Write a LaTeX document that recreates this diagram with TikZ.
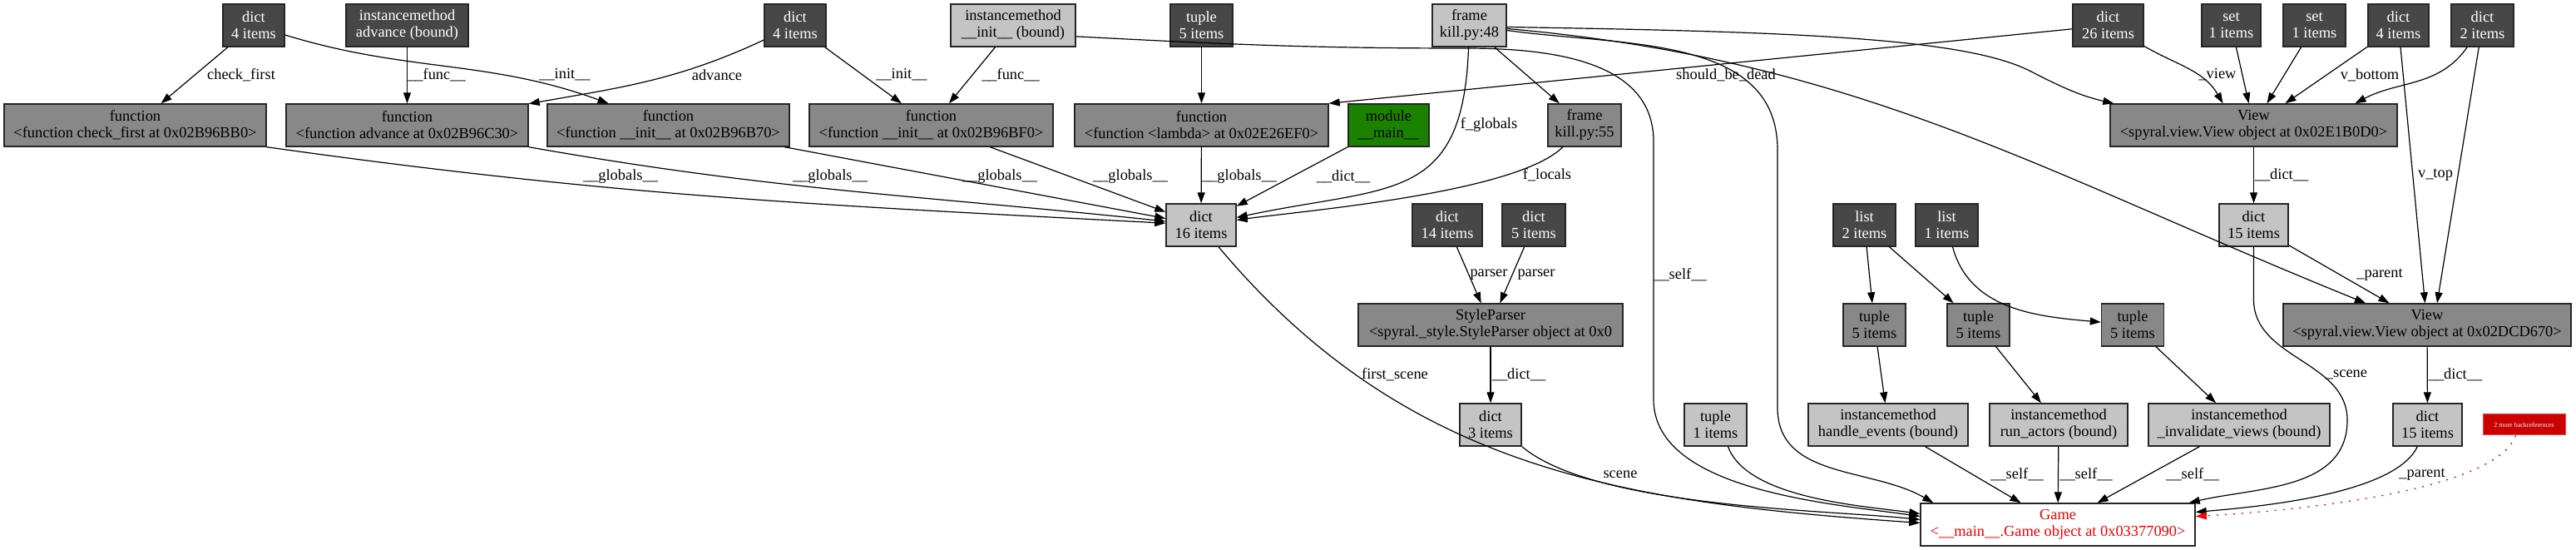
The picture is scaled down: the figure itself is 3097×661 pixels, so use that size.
\documentclass[tikz,border=0pt]{standalone}
\usepackage{fontspec}
\setmainfont{Liberation Serif}
\usetikzlibrary{arrows.meta}

\definecolor{cdark}{HTML}{474747}
\definecolor{cmid}{HTML}{888888}
\definecolor{clight}{HTML}{C4C4C4}
\definecolor{cmodule}{HTML}{1B8200}
\definecolor{cmore}{HTML}{CC0000}

\begin{document}
\begin{tikzpicture}[x=0.25pt, y=-0.25pt, font=\fontsize{4.6}{5}\selectfont,
  obj/.style={draw=black!85, line width=0.35pt, minimum height=12.75pt, inner sep=0.25pt, align=center},
  objdark/.style={obj, fill=cdark, text=white},
  objmid/.style={obj, fill=cmid},
  objlight/.style={obj, fill=clight},
  objmodule/.style={obj, fill=cmodule},
  objgame/.style={obj, fill=white, text=red},
  objmore/.style={draw=red!75!white, line width=0.25pt, fill=cmore, text=white, minimum height=6.25pt, inner sep=0pt, font=\fontsize{2}{2.25}\selectfont},
  ref/.style={-{Triangle[length=3.25pt,width=2.25pt]}, line width=0.3pt},
  refmore/.style={ref, red, dash pattern=on 0.5pt off 2pt},
  lbl/.style={inner sep=0pt}]

 \useasboundingbox (0,0) rectangle (3097,661);

 % define a new command named \Obj with 5 arguments
 \newcommand{\Obj}[5]{
  % Draw an object box with {style}{(x,y)}{width}{name}{text}
  \node [#1, minimum width=#3*0.25pt] (#4) at #2 {#5};
 }

 % top row: the referrers
 \Obj{objdark}{(305,30.5)}{74}{a1}{dict\\4 items}
 \Obj{objdark}{(489.5,30.5)}{147}{a2}{instancemethod\\advance (bound)}
 \Obj{objdark}{(956,30.5)}{74}{a3}{dict\\4 items}
 \Obj{objlight}{(1218,30.5)}{150}{a4}{instancemethod\\\_\_init\_\_ (bound)}
 \Obj{objdark}{(1444.5,30.5)}{75}{a5}{tuple\\5 items}
 \Obj{objlight}{(1766.5,30.5)}{89}{a6}{frame\\kill.py:48}
 \Obj{objdark}{(2534.5,30.5)}{85}{a7}{dict\\26 items}
 \Obj{objdark}{(2682.5,30.5)}{71}{a8}{set\\1 items}
 \Obj{objdark}{(2782.5,30.5)}{75}{a9}{set\\1 items}
 \Obj{objdark}{(2883.5,30.5)}{73}{a10}{dict\\4 items}
 \Obj{objdark}{(2984.5,30.5)}{75}{a11}{dict\\2 items}

 % second row: functions, module, frame and the first view
 \Obj{objmid}{(162.5,150.5)}{315}{b1}{function\\<function check\_first at 0x02B96BB0>}
 \Obj{objmid}{(489.5,150.5)}{291}{b2}{function\\<function advance at 0x02B96C30>}
 \Obj{objmid}{(803.5,150.5)}{291}{b3}{function\\<function \_\_init\_\_ at 0x02B96B70>}
 \Obj{objmid}{(1119.5,150.5)}{293}{b4}{function\\<function \_\_init\_\_ at 0x02B96BF0>}
 \Obj{objmid}{(1444.5,150.5)}{305}{b5}{function\\<function <lambda> at 0x02E26EF0>}
 \Obj{objmodule}{(1669.5,150.5)}{97}{b6}{module\\\_\_main\_\_}
 \Obj{objmid}{(1905,150.5)}{88}{b7}{frame\\kill.py:55}
 \Obj{objmid}{(2709.5,150.5)}{345}{b8}{View\\<spyral.view.View object at 0x02E1B0D0>}

 % third row
 \Obj{objlight}{(1444,270.5)}{84}{c1}{dict\\16 items}
 \Obj{objdark}{(1740,270.5)}{84}{c2}{dict\\14 items}
 \Obj{objdark}{(1844,270.5)}{76}{c3}{dict\\5 items}
 \Obj{objdark}{(2241.5,270.5)}{75}{c4}{list\\2 items}
 \Obj{objdark}{(2340.5,270.5)}{75}{c5}{list\\1 items}
 \Obj{objlight}{(2709.5,270.5)}{83}{c6}{dict\\15 items}

 % fourth row
 \Obj{objmid}{(1792,390.5)}{318}{d1}{StyleParser\\<spyral.\_style.StyleParser object at 0x0}
 \foreach \x/\nm in {2253.5/d2, 2378.5/d3, 2564/d4} {
  \Obj{objmid}{(\x,390.5)}{75}{\nm}{tuple\\5 items}
 }
 \Obj{objmid}{(2918,390.5)}{346}{d5}{View\\<spyral.view.View object at 0x02DCD670>}

 % fifth row
 \Obj{objlight}{(1792,510.5)}{74}{e1}{dict\\3 items}
 \Obj{objlight}{(2062.5,510.5)}{75}{e2}{tuple\\1 items}
 \Obj{objlight}{(2270,510.5)}{192}{e3}{instancemethod\\handle\_events (bound)}
 \Obj{objlight}{(2475,510.5)}{166}{e4}{instancemethod\\run\_actors (bound)}
 \Obj{objlight}{(2692,510.5)}{218}{e5}{instancemethod\\\_invalidate\_views (bound)}
 \Obj{objlight}{(2918.5,510.5)}{83}{e6}{dict\\15 items}
 \Obj{objmore}{(3034.5,510.5)}{99}{e7}{2 more backreferences}

 % the object that should be dead
 \Obj{objgame}{(2474,630.5)}{330}{f1}{Game\\<\_\_main\_\_.Game object at 0x03377090>}

 % top row into the functions
 \draw[ref] (a1) -- (b1) node[lbl] at (290,90) {check\_first};
 \draw[ref] (a1) to[out=-17,in=160] (b3) node[lbl] at (679,90) {\_\_init\_\_};
 \draw[ref] (a2) -- (b2) node[lbl] at (525,90) {\_\_func\_\_};
 \draw[ref] (a3) to[out=205,in=10] (b2) node[lbl] at (862,90) {advance};
 \draw[ref] (a3) -- (b4) node[lbl] at (1084,90) {\_\_init\_\_};
 \draw[ref] (a4) -- (b4) node[lbl] at (1215,90) {\_\_func\_\_};
 \draw[ref] (a5) -- (b5);
 \draw[ref] (a7) -- (b5.north east) node[lbl] at (2075,90) {should\_be\_dead};

 % everything that holds the globals dict
 \draw[ref] (b1.south east) to[out=-8,in=177] (c1) node[lbl] at (746,212) {\_\_globals\_\_};
 \draw[ref] (b2.south east) to[out=-10,in=174] (c1) node[lbl] at (998,212) {\_\_globals\_\_};
 \draw[ref] (b3) -- (c1) node[lbl] at (1202,212) {\_\_globals\_\_};
 \draw[ref] (b4) -- (c1) node[lbl] at (1359,212) {\_\_globals\_\_};
 \draw[ref] (b5) -- (c1) node[lbl] at (1490,212) {\_\_globals\_\_};
 \draw[ref] (b6) -- (c1) node[lbl] at (1615,212) {\_\_dict\_\_};
 \draw[ref] (a6) to[out=268,in=12,looseness=1.4] (c1) node[lbl] at (1790,150) {f\_globals};
 \draw[ref] (b7) to[out=225,in=8,looseness=0.5] (c1) node[lbl] at (1860,210) {f\_locals};
 \draw[ref] (a6) -- (b7);

 % the style parser
 \draw[ref] (c2) -- (d1) node[lbl] at (1790,330) {parser};
 \draw[ref] (c3) -- (d1) node[lbl] at (1847,330) {parser};
 \draw[ref] (d1) -- (e1) node[lbl] at (1826,450) {\_\_dict\_\_};

 % lists, tuples and bound methods
 \draw[ref] (c4) -- (d2);
 \draw[ref] (c4) -- (d3);
 \draw[ref] (c5) to[out=-75,in=175] (d4);
 \draw[ref] (d2) -- (e3);
 \draw[ref] (d3) -- (e4);
 \draw[ref] (d4) -- (e5);
 \draw[ref] (e3) -- (f1) node[lbl] at (2425,570) {\_\_self\_\_};
 \draw[ref] (e4) -- (f1) node[lbl] at (2508,570) {\_\_self\_\_};
 \draw[ref] (e5) -- (f1) node[lbl] at (2636,570) {\_\_self\_\_};

 % the two views
 \draw[ref] ([yshift=-0.5pt]a6.east) .. controls (2150,38) and (2360,45) .. (2440,85)
   .. controls (2475,103) and (2500,115) .. ([xshift=1.25pt]b8.north west);
 \draw[ref] ([yshift=-1pt]a6.east) to[out=-5,in=158] ([xshift=-18.5pt]d5.north);
 \draw[ref] (a7) to[out=-30,in=120] ([xshift=-9.25pt]b8.north) node[lbl] at (2666,90) {\_view};
 \draw[ref] (a8) -- (b8);
 \draw[ref] (a9) -- (b8);
 \draw[ref] (a10) -- (b8) node[lbl] at (2849,90) {v\_bottom};
 \draw[ref] (a11) to[out=235,in=28] ([xshift=30.5pt]b8.north);
 \draw[ref] (a10) -- (d5) node[lbl] at (2928,210) {v\_top};
 \draw[ref] (a11) -- ([xshift=3pt]d5.north);
 \draw[ref] (b8) -- (c6) node[lbl] at (2743,210) {\_\_dict\_\_};
 \draw[ref] (c6) -- (d5) node[lbl] at (2861,330) {\_parent};
 \draw[ref] (d5) -- (e6) node[lbl] at (2952,450) {\_\_dict\_\_};

 % referrers of the game
 \draw[ref] (a4.-10) to[out=-3,in=180] (1760,58) to[out=0,in=90] (1988,170) -- (1988,480)
   to[out=-90,in=172,looseness=0.8] ([yshift=2.5pt]f1.west) node[lbl] at (2020,330) {\_\_self\_\_};
 \draw[ref] ([yshift=-1.5pt]a6.east) to[out=-8,in=90] (2137,180) -- (2137,490)
   to[out=-90,in=150] ([xshift=4pt]f1.north west);
 \draw[ref] ([xshift=5.25pt]c1.south) to[out=-50,in=176] ([yshift=0.5pt]f1.west) node[lbl] at (1677,450) {first\_scene};
 \draw[ref] (e1.south east) to[out=-40,in=174,looseness=0.6] ([yshift=1.5pt]f1.west) node[lbl] at (1948,570) {scene};
 \draw[ref] ([xshift=3.75pt]e2.south) to[out=-70,in=172,looseness=0.7] ([yshift=3.25pt]f1.west);
 \draw[ref] (c6) -- (2709.5,360) to[out=-90,in=90] (2822,505)
   to[out=-90,in=13] ([xshift=-2pt]f1.north east) node[lbl] at (2821,450) {\_scene};
 \draw[ref] (e6) to[out=-115,in=5,looseness=0.6] ([yshift=3.75pt]f1.east) node[lbl] at (2912,570) {\_parent};
 \draw[refmore] ([xshift=-2.5pt]e7.south) to[out=-110,in=3,looseness=0.5] ([yshift=2.5pt]f1.east);
\end{tikzpicture}
\end{document}
